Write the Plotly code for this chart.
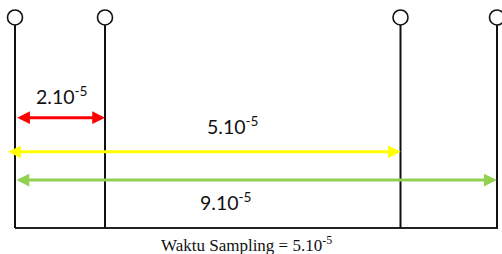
import plotly.graph_objects as go

# Schematic data (x in drawing units, stem 1 at 0)
stem_x = [0, 90, 385.5, 482]
stem_height = [1, 1, 1, 1]
baseline_x = [0, 483]

arrow_names = ["2.10<sup>-5</sup>", "5.10<sup>-5</sup>", "9.10<sup>-5</sup>"]
arrow_start = [0.7, -8.3, 0]
arrow_end = [90, 385.7, 481.7]
arrow_level = [0.524, 0.362, 0.228]
arrow_colors = ["#ff0000", "#ffff00", "#92d050"]
label_x = [46.5, 217.5, 211]
label_y = [0.63, 0.485, 0.127]

caption = "Waktu Sampling = 5.10<sup>-5</sup>"
caption_x = 231.5
caption_y = -0.074

fig = go.Figure()

# baseline
fig.add_trace(go.Scatter(x=baseline_x, y=[0, 0], mode="lines",
                         line=dict(color="#222222", width=2), hoverinfo="skip"))

# stems
sx, sy = [], []
for x, h in zip(stem_x, stem_height):
    sx += [x, x, None]
    sy += [0, h - 0.036, None]
fig.add_trace(go.Scatter(x=sx, y=sy, mode="lines",
                         line=dict(color="#111111", width=2), hoverinfo="skip"))
fig.add_trace(go.Scatter(x=stem_x, y=stem_height, mode="markers",
                         marker=dict(symbol="circle-open", size=15, color="#111111",
                                     line=dict(color="#111111", width=1.6)),
                         hoverinfo="skip"))

annotations = []
for s, e, lv, c in zip(arrow_start, arrow_end, arrow_level, arrow_colors):
    annotations.append(dict(x=e, y=lv, ax=s, ay=lv, xref="x", yref="y",
                            axref="x", ayref="y", text="", showarrow=True,
                            arrowhead=2, startarrowhead=2, arrowside="end+start",
                            arrowsize=0.85, startarrowsize=0.85,
                            arrowwidth=3, arrowcolor=c, standoff=0, startstandoff=0))
for t, x, y in zip(arrow_names, label_x, label_y):
    annotations.append(dict(x=x, y=y, xref="x", yref="y", text=t, showarrow=False,
                            font=dict(family="Lato", size=19.5, color="#111111")))
annotations.append(dict(x=caption_x, y=caption_y, xref="x", yref="y", text=caption,
                        showarrow=False,
                        font=dict(family="Liberation Serif", size=17, color="#111111")))

fig.update_layout(
    width=502, height=254, autosize=False,
    margin=dict(l=0, r=0, t=0, b=0),
    paper_bgcolor="white", plot_bgcolor="white",
    showlegend=False,
    xaxis=dict(range=[-15, 487], visible=False, fixedrange=True),
    yaxis=dict(range=[-0.1235, 1.0831], visible=False, fixedrange=True),
    annotations=annotations,
)

fig.write_html("out.html", config={"displayModeBar": False},
               post_script="document.body.style.margin='0';document.body.style.overflow='hidden';")
